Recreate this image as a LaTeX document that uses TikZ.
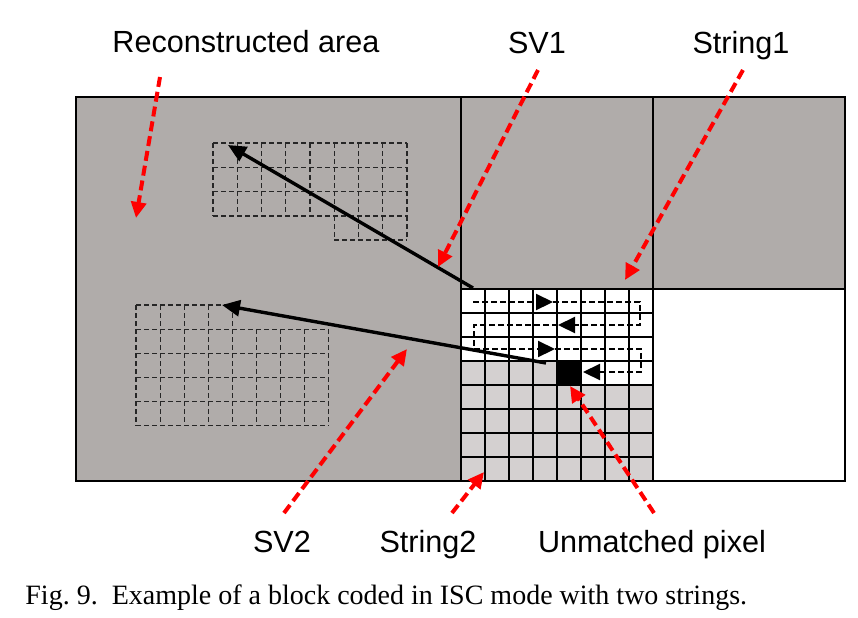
\documentclass[tikz,border=0pt]{standalone}
\usepackage{fontspec}
\setmainfont{Liberation Serif}
\newfontfamily\arialfont{Liberation Sans}
\usetikzlibrary{arrows.meta}
\definecolor{darkarea}{RGB}{176,172,170}
\definecolor{lightcell}{RGB}{212,208,208}
\definecolor{redarr}{RGB}{255,0,0}
\frenchspacing
\begin{document}
\begin{tikzpicture}[x=0.5pt,y=-0.5pt,
  lbl/.style={font=\arialfont\fontsize{15.3}{18}\selectfont, anchor=base, inner sep=0pt},
  captext/.style={font=\fontsize{14}{16}\selectfont, anchor=base west, inner sep=0pt},
  border/.style={line width=1.2pt, draw=black},
  gridline/.style={line width=1.2pt, black},
  dgrid/.style={line width=0.6pt, black!85, dash pattern=on 2.5pt off 1.5pt},
  svarrow/.style={line width=1.7pt, -{Triangle[length=9pt,width=8pt]}},
  redarrow/.style={line width=2pt, redarr, dash pattern=on 5pt off 2.5pt, -{Triangle[length=8pt,width=7.5pt]}},
  strpath/.style={line width=1.1pt, dash pattern=on 3pt off 1.5pt, -{Triangle[length=8.5pt,width=8pt]}},
]
\useasboundingbox (0,0) rectangle (858,617);
% areas
\fill[darkarea] (76,97) rectangle (461,481);
\fill[darkarea] (461,97) rectangle (845,289);
\fill[white] (461,289) rectangle (653,361);
\fill[white] (581,361) rectangle (653,385);
\fill[lightcell] (461,361) rectangle (557,385);
\fill[lightcell] (461,385) rectangle (653,481);
\fill[black] (557,361) rectangle (581,385);
% central grid
\foreach \i in {0,...,8} {
  \draw[gridline] (461+24*\i,289) -- (461+24*\i,481);
  \draw[gridline] (461,289+24*\i) -- (653,289+24*\i);
}
% borders
\draw[border] (76,97) rectangle (845,481);
\draw[border] (461,97) -- (461,481);
\draw[border] (653,97) -- (653,481);
\draw[border] (461,289) -- (845,289);
% dashed reference grid 1
\foreach \i in {0,...,3} \draw[dgrid] (213,143+24.33*\i) -- (407,143+24.33*\i);
\draw[dgrid] (334,240) -- (407,240);
\foreach \i in {0,...,8} \draw[dgrid] (213+24.25*\i,143) -- (213+24.25*\i,216);
\foreach \i in {5,...,8} \draw[dgrid] (213+24.25*\i,216) -- (213+24.25*\i,240);
% dashed reference grid 2
\draw[dgrid] (136,305) -- (232,305);
\foreach \i in {1,...,5} \draw[dgrid] (136,305+24.1*\i) -- (329,305+24.1*\i);
\foreach \i in {0,...,4} \draw[dgrid] (136+24.1*\i,305) -- (136+24.1*\i,425.5);
\foreach \i in {5,...,8} \draw[dgrid] (136+24.1*\i,329) -- (136+24.1*\i,425.5);
% string path
\coordinate (p0) at (473,302);
\coordinate (m1) at (553,302);
\coordinate (c1) at (640,302);
\coordinate (c2) at (640,325);
\coordinate (m2) at (558,325);
\coordinate (c3) at (474,325);
\coordinate (c4) at (474,349);
\coordinate (m3) at (555,349);
\coordinate (c5) at (641,349);
\coordinate (c6) at (641,372);
\coordinate (pe) at (583,372);
\draw[strpath] (p0) -- (m1);
\draw[strpath] (m1) -- (c1) -- (c2) -- (m2);
\draw[strpath] (m2) -- (c3) -- (c4) -- (m3);
\draw[strpath] (m3) -- (c5) -- (c6) -- (pe);
% string vectors
\coordinate (sv1s) at (473,288);
\coordinate (sv1e) at (228,145);
\coordinate (sv2s) at (546,363);
\coordinate (sv2e) at (222,305);
\draw[svarrow] (sv1s) -- (sv1e);
\draw[svarrow] (sv2s) -- (sv2e);
% labels
\node[lbl] (lra) at (246,52) {Reconstructed area};
\node[lbl] (lsv1) at (537,53) {SV1};
\node[lbl] (lstr1) at (741,53) {String1};
\node[lbl] (lsv2) at (282,552) {SV2};
\node[lbl] (lstr2) at (428,552) {String2};
\node[lbl] (lunm) at (652,552) {Unmatched pixel};
% red pointer arrows
\coordinate (ra0) at (160,77);  \coordinate (ra1) at (136,218);
\coordinate (rb0) at (538,70);  \coordinate (rb1) at (438,267);
\coordinate (rc0) at (743,70);  \coordinate (rc1) at (625,280);
\coordinate (rd0) at (284,513); \coordinate (rd1) at (407,349);
\coordinate (re0) at (452,513); \coordinate (re1) at (484,472);
\coordinate (rf0) at (654,513); \coordinate (rf1) at (570,386);
\draw[redarrow] (ra0) -- (ra1);
\draw[redarrow] (rb0) -- (rb1);
\draw[redarrow] (rc0) -- (rc1);
\draw[redarrow] (rd0) -- (rd1);
\draw[redarrow] (re0) -- (re1);
\draw[redarrow] (rf0) -- (rf1);
% caption
\node[captext] (caption) at (25,604) {Fig. 9.\ \ Example of a block coded in ISC mode with two strings.};
\end{tikzpicture}
\end{document}
